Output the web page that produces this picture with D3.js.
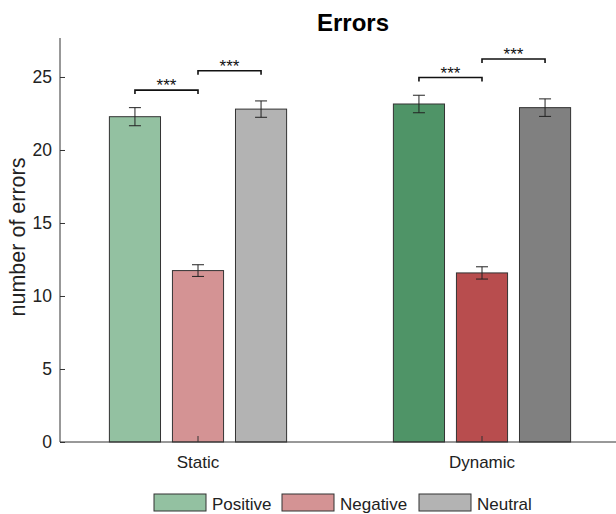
<!DOCTYPE html>
<html>
<head>
<meta charset="utf-8">
<script src="https://cdn.jsdelivr.net/npm/d3@7"></script>
<style>
  body { margin: 0; background: #fff; }
  svg { font-family: Arial, "Liberation Sans", sans-serif; }
</style>
</head>
<body>
<div id="chart"></div>
<script>
const conditions = ['Static', 'Dynamic']
const emotions = ['Positive', 'Negative', 'Neutral']
const means = [
  [22.28, 11.74, 22.8],
  [23.15, 11.58, 22.9]
]
const errors = [
  [0.62, 0.4, 0.56],
  [0.6, 0.42, 0.6]
]
const colors = [
  ['#93c1a1', '#d49394', '#b3b3b3'],
  ['#4f9467', '#b84d4e', '#808080']
]
const legendColors = ['#93c1a1', '#d49394', '#b3b3b3']
// significance brackets: [condition, from bar, to bar, height]
const brackets = [
  [0, 0, 1, 24.1],
  [0, 1, 2, 25.43],
  [1, 0, 1, 24.96],
  [1, 1, 2, 26.23]
]
const yTicks = [0, 5, 10, 15, 20, 25]

const width = 616
const height = 514

const svg = d3.select('#chart')
  .append('svg')
  .attr('width', width)
  .attr('height', height)

const y = d3.scaleLinear().domain([0, 27.67]).range([442, 38])
const x = d3.scaleLinear().domain([1, 2]).range([198, 482])
// bar offset inside a group, in x units
const pitch = 0.222
const barW = x(1.18) - x(1)
const barX = (c, e) => x(c + 1 + (e - 1) * pitch)

const stroke = '#333'

// bars
conditions.forEach((cond, c) => {
  emotions.forEach((em, e) => {
    svg.append('rect')
      .attr('x', barX(c, e) - barW / 2)
      .attr('y', y(means[c][e]))
      .attr('width', barW)
      .attr('height', y(0) - y(means[c][e]))
      .attr('fill', colors[c][e])
      .attr('stroke', stroke)
      .attr('stroke-width', 1)
  })
})

// error bars
conditions.forEach((cond, c) => {
  emotions.forEach((em, e) => {
    const cx = barX(c, e)
    const lo = y(means[c][e] - errors[c][e])
    const hi = y(means[c][e] + errors[c][e])
    const g = svg.append('g').attr('stroke', '#222').attr('stroke-width', 1)
    g.append('line').attr('x1', cx).attr('x2', cx).attr('y1', lo).attr('y2', hi)
    g.append('line').attr('x1', cx - 6).attr('x2', cx + 6).attr('y1', lo).attr('y2', lo)
    g.append('line').attr('x1', cx - 6).attr('x2', cx + 6).attr('y1', hi).attr('y2', hi)
  })
})

// axes
const yAxis = d3.axisLeft(y).tickValues(yTicks).tickSizeInner(-5).tickSizeOuter(0).tickPadding(8)
const ya = svg.append('g').attr('transform', 'translate(60,0)').call(yAxis)
ya.select('.domain').remove()
ya.selectAll('.tick line').attr('stroke', '#333')
ya.selectAll('text').attr('font-size', 17.5).attr('fill', '#222')

svg.append('line')
  .attr('x1', 60).attr('x2', 60).attr('y1', 38).attr('y2', 442)
  .attr('stroke', '#333')
svg.append('line')
  .attr('x1', 60).attr('x2', width).attr('y1', 442).attr('y2', 442)
  .attr('stroke', '#333')

conditions.forEach((cond, c) => {
  svg.append('line')
    .attr('x1', x(c + 1)).attr('x2', x(c + 1))
    .attr('y1', 442).attr('y2', 436)
    .attr('stroke', '#333')
  svg.append('text')
    .attr('x', x(c + 1))
    .attr('y', 468)
    .attr('text-anchor', 'middle')
    .attr('font-size', 17)
    .attr('fill', '#222')
    .text(cond)
})

// significance brackets
brackets.forEach(([c, a, b, h]) => {
  const x1 = barX(c, a)
  const x2 = barX(c, b)
  const yy = y(h)
  svg.append('path')
    .attr('d', `M${x1},${yy + 4}V${yy}H${x2}V${yy + 4}`)
    .attr('fill', 'none')
    .attr('stroke', '#111')
    .attr('stroke-width', 1.6)
  svg.append('text')
    .attr('x', (x1 + x2) / 2)
    .attr('y', yy + 1)
    .attr('text-anchor', 'middle')
    .attr('font-size', 17)
    .attr('fill', '#111')
    .text('***')
})

// title and label
svg.append('text')
  .attr('x', 353)
  .attr('y', 31)
  .attr('text-anchor', 'middle')
  .attr('font-size', 24)
  .attr('font-weight', 'bold')
  .text('Errors')

svg.append('text')
  .attr('transform', 'translate(25,237) rotate(-90)')
  .attr('text-anchor', 'middle')
  .attr('font-size', 21.5)
  .attr('fill', '#222')
  .text('number of errors')

// legend
const legendX = [154, 282, 419]
emotions.forEach((em, e) => {
  svg.append('rect')
    .attr('x', legendX[e])
    .attr('y', 494)
    .attr('width', 52)
    .attr('height', 17)
    .attr('fill', legendColors[e])
    .attr('stroke', stroke)
  svg.append('text')
    .attr('x', legendX[e] + 58)
    .attr('y', 510)
    .attr('font-size', 17)
    .attr('fill', '#222')
    .text(em)
})
</script>
</body>
</html>
